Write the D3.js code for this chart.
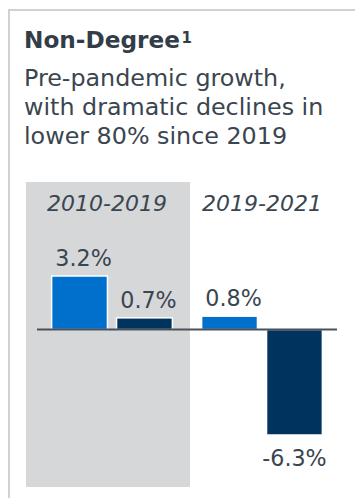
<!DOCTYPE html>
<html>
<head>
<meta charset="utf-8">
<script src="https://d3js.org/d3.v7.min.js"></script>
<style>
  html, body { margin: 0; padding: 0; background: #fff; }
  svg { display: block; font-family: "DejaVu Sans", Verdana, sans-serif; }
</style>
</head>
<body>
<div id="chart"></div>
<script>
// periods and series
const periods = ["2010-2019", "2019-2021"];
const series = ["Top 20%", "Lower 80%"];
// annual growth, % (one array per period, same order as series)
const values2010 = [3.2, 0.7];
const values2019 = [0.8, -6.3];

const title = "Non-Degree";
const subtitle = ["Pre-pandemic growth,", "with dramatic declines in", "lower 80% since 2019"];

const colors = { "Top 20%": "#0070cc", "Lower 80%": "#00335e" };
const textCol = "#3a4550";

const data = [];
periods.forEach((p, i) => {
  const vals = i === 0 ? values2010 : values2019;
  series.forEach((s, j) => data.push({ period: p, series: s, value: vals[j] }));
});

const width = 355, height = 498;

const svg = d3.select("#chart").append("svg")
  .attr("width", width)
  .attr("height", height);

// card border (top + left)
svg.append("path")
  .attr("d", `M9,${height} V10 H${width}`)
  .attr("fill", "none")
  .attr("stroke", "#d0d1d3")
  .attr("stroke-width", 2);

// title + footnote mark
const t = svg.append("text")
  .attr("x", 24).attr("y", 48)
  .attr("fill", "#333d48")
  .attr("font-weight", "bold")
  .attr("font-size", 23.2)
  .text(title);
svg.append("text")
  .attr("x", 24 + t.node().getComputedTextLength() + 1.5)
  .attr("y", 43)
  .attr("fill", "#333d48")
  .attr("font-weight", "bold")
  .attr("font-size", 15)
  .text("1");

svg.append("g").selectAll("text")
  .data(subtitle)
  .join("text")
  .attr("x", 24)
  .attr("y", (d, i) => 86 + i * 29)
  .attr("fill", textCol)
  .attr("font-size", 23.8)
  .text(d => d);

// scales
const x0 = d3.scaleBand().domain(periods).range([37, 337]).padding(0);
const x1 = d3.scaleBand().domain(series).range([0, x0.bandwidth()])
  .paddingInner(0.14).paddingOuter(0.225);
const y = d3.scaleLinear().domain(d3.extent(data, d => d.value)).range([435, 276]);

// shaded pre-pandemic band
svg.append("rect")
  .attr("x", x0(periods[0]) - 11)
  .attr("y", 182)
  .attr("width", x0.bandwidth() + 14)
  .attr("height", 305)
  .attr("fill", "#d6d7d9");

// period labels
svg.append("g").selectAll("text")
  .data(periods)
  .join("text")
  .attr("x", d => x0(d) + x0.bandwidth() / 2 - (d === periods[0] ? 5 : 0))
  .attr("y", 211)
  .attr("text-anchor", "middle")
  .attr("font-style", "italic")
  .attr("font-size", 22)
  .attr("fill", textCol)
  .text(d => d);

// bars
svg.append("g").selectAll("rect")
  .data(data)
  .join("rect")
  .attr("x", d => x0(d.period) + x1(d.series))
  .attr("width", x1.bandwidth())
  .attr("y", d => y(Math.max(0, d.value)))
  .attr("height", d => Math.abs(y(d.value) - y(0)))
  .attr("fill", d => colors[d.series])
  .attr("stroke", "#fff")
  .attr("stroke-width", 1.5);

// zero line
svg.append("line")
  .attr("x1", x0.range()[0]).attr("x2", x0.range()[1])
  .attr("y1", y(0)).attr("y2", y(0))
  .attr("stroke", "#47525c")
  .attr("stroke-width", 2);

// value labels
svg.append("g").selectAll("text")
  .data(data)
  .join("text")
  .attr("x", d => x0(d.period) + x1(d.series) + x1.bandwidth() / 2 + (d.value >= 0 ? 4 : 0))
  .attr("y", d => d.value >= 0 ? y(d.value) - 10 : y(d.value) + 31)
  .attr("text-anchor", "middle")
  .attr("font-size", 22.2)
  .attr("fill", textCol)
  .text(d => d.value.toFixed(1) + "%");
</script>
</body>
</html>
